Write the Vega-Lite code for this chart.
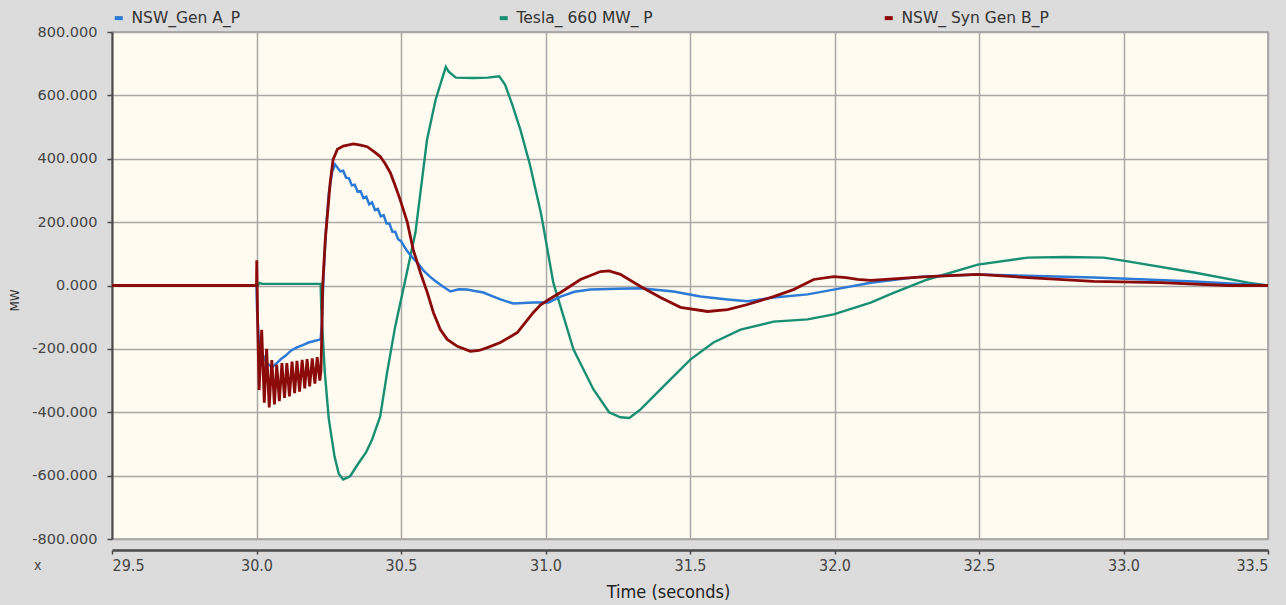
{
  "$schema": "https://vega.github.io/schema/vega-lite/v6.json",
  "autosize": "none",
  "width": 1156,
  "height": 507,
  "padding": {"left": 112, "top": 32, "right": 18, "bottom": 66},
  "background": "#dcdcdc",
  "title": {"text": "x", "orient": "bottom", "anchor": "start", "frame": "group", "dx": -78, "dy": -46, "fontSize": 14, "fontWeight": "normal", "color": "#444", "font": "DejaVu Sans Condensed"},
  "config": {
    "view": {"fill": "#fffbf0", "stroke": "#9a9a9a", "strokeWidth": 1.5},
    "font": "DejaVu Sans"
  },
  "datasets": {
    "gen_a": [
      {"t": 29.5, "v": 0}, {"t": 30.0, "v": 0}, {"t": 30.002, "v": -80}, {"t": 30.008, "v": -170},
      {"t": 30.02, "v": -215}, {"t": 30.035, "v": -245}, {"t": 30.055, "v": -258}, {"t": 30.07, "v": -245},
      {"t": 30.085, "v": -232}, {"t": 30.1, "v": -222}, {"t": 30.12, "v": -205}, {"t": 30.14, "v": -195},
      {"t": 30.16, "v": -188}, {"t": 30.18, "v": -180}, {"t": 30.2, "v": -175}, {"t": 30.222, "v": -170},
      {"t": 30.226, "v": -120}, {"t": 30.232, "v": 30}, {"t": 30.24, "v": 170}, {"t": 30.25, "v": 290},
      {"t": 30.262, "v": 360}, {"t": 30.272, "v": 382}, {"t": 30.28, "v": 372}, {"t": 30.29, "v": 360},
      {"t": 30.3, "v": 362}, {"t": 30.31, "v": 340}, {"t": 30.32, "v": 338}, {"t": 30.33, "v": 316},
      {"t": 30.34, "v": 318}, {"t": 30.35, "v": 296}, {"t": 30.36, "v": 298}, {"t": 30.37, "v": 276},
      {"t": 30.38, "v": 280}, {"t": 30.39, "v": 256}, {"t": 30.4, "v": 262}, {"t": 30.41, "v": 238},
      {"t": 30.42, "v": 242}, {"t": 30.43, "v": 218}, {"t": 30.44, "v": 222}, {"t": 30.45, "v": 196},
      {"t": 30.46, "v": 196}, {"t": 30.47, "v": 170}, {"t": 30.48, "v": 170}, {"t": 30.49, "v": 146},
      {"t": 30.5, "v": 140}, {"t": 30.52, "v": 110}, {"t": 30.54, "v": 88}, {"t": 30.556, "v": 73},
      {"t": 30.58, "v": 45}, {"t": 30.6, "v": 28}, {"t": 30.612, "v": 19}, {"t": 30.64, "v": 0},
      {"t": 30.671, "v": -19}, {"t": 30.7, "v": -12}, {"t": 30.729, "v": -13}, {"t": 30.76, "v": -18},
      {"t": 30.785, "v": -22}, {"t": 30.82, "v": -35}, {"t": 30.844, "v": -44}, {"t": 30.889, "v": -57},
      {"t": 30.958, "v": -54}, {"t": 31.01, "v": -54}, {"t": 31.052, "v": -35}, {"t": 31.1, "v": -20},
      {"t": 31.155, "v": -13}, {"t": 31.25, "v": -10}, {"t": 31.329, "v": -9}, {"t": 31.443, "v": -19},
      {"t": 31.536, "v": -35}, {"t": 31.63, "v": -44}, {"t": 31.699, "v": -50}, {"t": 31.789, "v": -38},
      {"t": 31.907, "v": -28}, {"t": 31.997, "v": -13}, {"t": 32.125, "v": 9}, {"t": 32.3, "v": 28},
      {"t": 32.496, "v": 35}, {"t": 32.7, "v": 30}, {"t": 32.897, "v": 25}, {"t": 33.1, "v": 18},
      {"t": 33.244, "v": 13}, {"t": 33.4, "v": 5}, {"t": 33.5, "v": 0}
    ],
    "tesla": [
      {"t": 29.5, "v": 0}, {"t": 30.0, "v": 0}, {"t": 30.005, "v": 0}, {"t": 30.01, "v": 8},
      {"t": 30.02, "v": 5}, {"t": 30.1, "v": 5}, {"t": 30.2, "v": 5}, {"t": 30.222, "v": 5},
      {"t": 30.224, "v": -70}, {"t": 30.236, "v": -270}, {"t": 30.25, "v": -420}, {"t": 30.27, "v": -540},
      {"t": 30.285, "v": -595}, {"t": 30.3, "v": -612}, {"t": 30.324, "v": -602}, {"t": 30.35, "v": -565},
      {"t": 30.38, "v": -525}, {"t": 30.4, "v": -486}, {"t": 30.428, "v": -413}, {"t": 30.452, "v": -274},
      {"t": 30.48, "v": -129}, {"t": 30.51, "v": -3}, {"t": 30.55, "v": 167}, {"t": 30.59, "v": 460},
      {"t": 30.62, "v": 587}, {"t": 30.655, "v": 690}, {"t": 30.665, "v": 675}, {"t": 30.69, "v": 656},
      {"t": 30.75, "v": 655}, {"t": 30.8, "v": 656}, {"t": 30.84, "v": 660}, {"t": 30.86, "v": 634},
      {"t": 30.885, "v": 571}, {"t": 30.913, "v": 492}, {"t": 30.946, "v": 382}, {"t": 30.985, "v": 225},
      {"t": 31.027, "v": 9}, {"t": 31.097, "v": -202}, {"t": 31.166, "v": -328}, {"t": 31.22, "v": -400},
      {"t": 31.259, "v": -416}, {"t": 31.29, "v": -418}, {"t": 31.329, "v": -391}, {"t": 31.422, "v": -306},
      {"t": 31.502, "v": -233}, {"t": 31.581, "v": -180}, {"t": 31.675, "v": -139}, {"t": 31.789, "v": -114},
      {"t": 31.907, "v": -107}, {"t": 31.997, "v": -91}, {"t": 32.125, "v": -54}, {"t": 32.2, "v": -25},
      {"t": 32.322, "v": 19}, {"t": 32.496, "v": 66}, {"t": 32.669, "v": 88}, {"t": 32.8, "v": 90},
      {"t": 32.932, "v": 88}, {"t": 33.015, "v": 76}, {"t": 33.244, "v": 41}, {"t": 33.431, "v": 9},
      {"t": 33.5, "v": 0}
    ],
    "syn_b": [
      {"t": 29.5, "v": 0}, {"t": 30.0, "v": 0}, {"t": 30.001, "v": 80}, {"t": 30.004, "v": -120},
      {"t": 30.009, "v": -330}, {"t": 30.018, "v": -140}, {"t": 30.027, "v": -370}, {"t": 30.035, "v": -200},
      {"t": 30.044, "v": -385}, {"t": 30.053, "v": -235}, {"t": 30.062, "v": -375}, {"t": 30.07, "v": -250},
      {"t": 30.079, "v": -365}, {"t": 30.088, "v": -245}, {"t": 30.097, "v": -355}, {"t": 30.105, "v": -245},
      {"t": 30.114, "v": -350}, {"t": 30.123, "v": -240}, {"t": 30.132, "v": -340}, {"t": 30.14, "v": -238},
      {"t": 30.149, "v": -335}, {"t": 30.158, "v": -235}, {"t": 30.167, "v": -325}, {"t": 30.175, "v": -232},
      {"t": 30.184, "v": -318}, {"t": 30.193, "v": -230}, {"t": 30.202, "v": -310}, {"t": 30.21, "v": -226},
      {"t": 30.219, "v": -300}, {"t": 30.223, "v": -270}, {"t": 30.226, "v": -150}, {"t": 30.229, "v": 0},
      {"t": 30.238, "v": 145}, {"t": 30.255, "v": 325}, {"t": 30.265, "v": 397}, {"t": 30.28, "v": 430},
      {"t": 30.3, "v": 440}, {"t": 30.335, "v": 447}, {"t": 30.36, "v": 443}, {"t": 30.383, "v": 438},
      {"t": 30.41, "v": 420}, {"t": 30.428, "v": 407}, {"t": 30.445, "v": 385}, {"t": 30.463, "v": 356},
      {"t": 30.48, "v": 315}, {"t": 30.497, "v": 271}, {"t": 30.522, "v": 199}, {"t": 30.542, "v": 114},
      {"t": 30.567, "v": 41}, {"t": 30.591, "v": -22}, {"t": 30.612, "v": -85}, {"t": 30.636, "v": -139},
      {"t": 30.66, "v": -170}, {"t": 30.695, "v": -192}, {"t": 30.74, "v": -208}, {"t": 30.77, "v": -205},
      {"t": 30.799, "v": -196}, {"t": 30.844, "v": -180}, {"t": 30.903, "v": -148}, {"t": 30.958, "v": -85},
      {"t": 30.982, "v": -62}, {"t": 31.01, "v": -45}, {"t": 31.052, "v": -22}, {"t": 31.121, "v": 19},
      {"t": 31.19, "v": 44}, {"t": 31.22, "v": 46}, {"t": 31.259, "v": 35}, {"t": 31.329, "v": -3},
      {"t": 31.398, "v": -38}, {"t": 31.467, "v": -69}, {"t": 31.561, "v": -82}, {"t": 31.63, "v": -76},
      {"t": 31.699, "v": -60}, {"t": 31.789, "v": -35}, {"t": 31.858, "v": -13}, {"t": 31.928, "v": 19},
      {"t": 31.997, "v": 28}, {"t": 32.04, "v": 25}, {"t": 32.08, "v": 19}, {"t": 32.125, "v": 16},
      {"t": 32.322, "v": 28}, {"t": 32.496, "v": 35}, {"t": 32.669, "v": 25}, {"t": 32.897, "v": 13},
      {"t": 33.129, "v": 9}, {"t": 33.361, "v": 0}, {"t": 33.5, "v": 0}
    ]
  },
  "encoding": {
    "x": {
      "field": "t", "type": "quantitative",
      "scale": {"domain": [29.5, 33.5], "nice": false, "zero": false},
      "axis": {
        "values": [29.5, 30, 30.5, 31, 31.5, 32, 32.5, 33, 33.5],
        "format": ".1f", "offset": 11,
        "domainColor": "#4a4a4a", "domainWidth": 2.5,
        "tickColor": "#4a4a4a", "tickSize": 4, "tickWidth": 1.5,
        "labelFont": "DejaVu Sans Condensed", "labelFontSize": 16, "labelColor": "#444", "labelPadding": 3,
        "title": "Time (seconds)", "titleFont": "DejaVu Sans Condensed", "titleFontSize": 18,
        "titleFontWeight": "normal", "titleColor": "#222", "titlePadding": 10,
        "titleX": 556, "titleAlign": "center",
        "grid": true, "gridColor": "#a8a8a8", "gridWidth": 1.5
      }
    },
    "y": {
      "field": "v", "type": "quantitative",
      "scale": {"domain": [-800, 800], "nice": false},
      "axis": {
        "values": [-800, -600, -400, -200, 0, 200, 400, 600, 800],
        "labelExpr": "replace(format(datum.value, '.3f'), '\u2212', '-')",
        "domainColor": "#4a4a4a", "domainWidth": 2,
        "tickColor": "#4a4a4a", "tickSize": 5, "tickWidth": 1.5,
        "labelFontSize": 14.5, "labelColor": "#444", "labelPadding": 10,
        "title": "MW", "titleFontSize": 12, "titleFontWeight": "normal", "titleColor": "#333",
        "titleX": -91, "titleY": 268,
        "grid": true, "gridColor": "#a8a8a8", "gridWidth": 1.5
      }
    },
    "color": {
      "type": "nominal",
      "scale": {
        "domain": ["NSW_Gen A_P", "Tesla_ 660 MW_ P", "NSW_ Syn Gen B_P"],
        "range": ["#2a7ad6", "#178f72", "#8b0a0a"]
      },
      "legend": {
        "orient": "none", "legendX": -1, "legendY": -22, "direction": "horizontal",
        "columns": 3, "gridAlign": "all", "columnPadding": 212, "padding": 0,
        "title": null, "symbolType": "stroke", "symbolSize": 64, "symbolStrokeWidth": 4,
        "labelFontSize": 15.5, "labelColor": "#333", "labelOffset": 5
      }
    }
  },
  "layer": [
    {"data": {"name": "tesla"}, "mark": {"type": "line", "strokeWidth": 2.4, "clip": true}, "encoding": {"color": {"datum": "Tesla_ 660 MW_ P"}}},
    {"data": {"name": "gen_a"}, "mark": {"type": "line", "strokeWidth": 2.5, "clip": true}, "encoding": {"color": {"datum": "NSW_Gen A_P"}}},
    {"data": {"name": "syn_b"}, "mark": {"type": "line", "strokeWidth": 2.8, "clip": true}, "encoding": {"color": {"datum": "NSW_ Syn Gen B_P"}}}
  ]
}
